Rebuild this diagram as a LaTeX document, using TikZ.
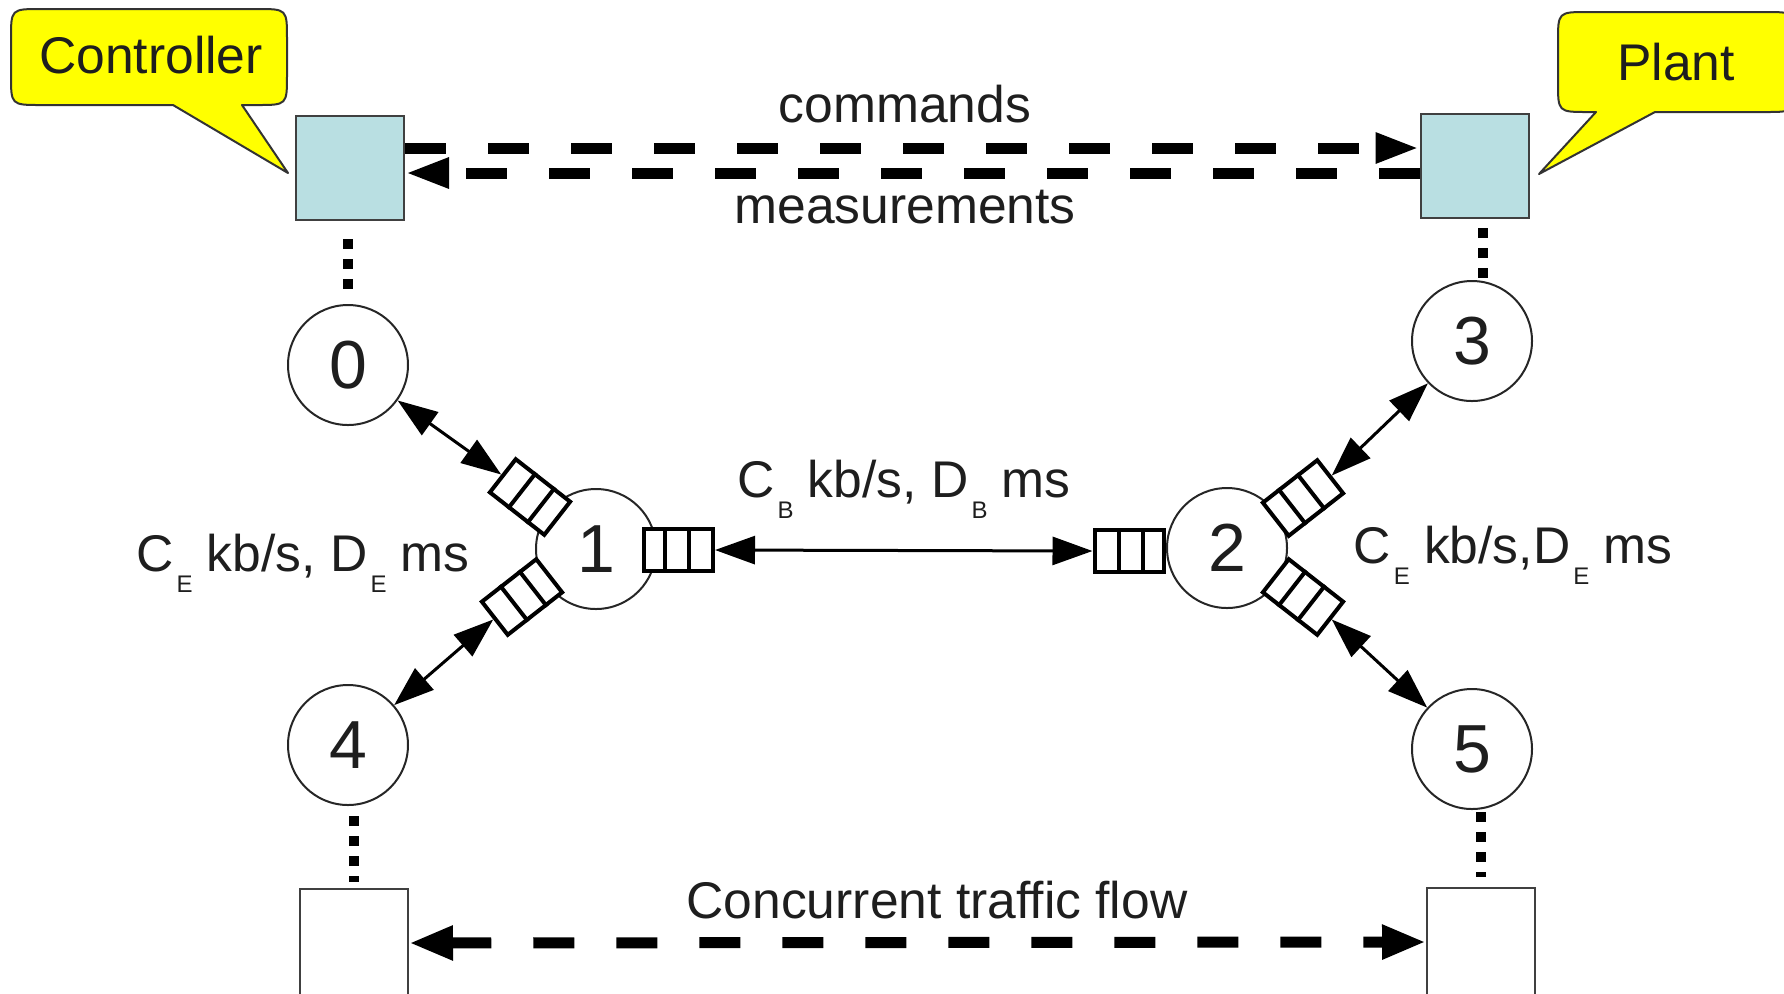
\documentclass[tikz,border=0pt]{standalone}
\usepackage{fontspec}
\setmainfont{Liberation Sans}
\usetikzlibrary{arrows.meta,calc}
\newcommand{\sbs}[1]{\kern1.5pt\raisebox{-10.5pt}{\fontsize{12}{12}\selectfont #1}}
\definecolor{boxblue}{RGB}{185,223,226}
\definecolor{txt}{RGB}{30,30,30}
\definecolor{callyellow}{RGB}{255,255,0}
\begin{document}
\begin{tikzpicture}[x=0.5pt,y=-0.5pt,
  lbl/.style={font=\fontsize{25.8}{30}\selectfont, text=txt, inner sep=0pt, anchor=base},
  station/.style={draw=black!85, line width=1pt, circle, minimum size=60pt, inner sep=0pt, fill=white, font=\fontsize{34}{40}\selectfont, text=txt},
  host/.style={draw=black!75, line width=1pt, minimum width=54pt, minimum height=52pt, inner sep=0pt},
  queue/.style={draw, line width=2pt, fill=white, minimum width=34.5pt, minimum height=21pt, inner sep=0pt},
  divider/.style={line width=2pt},
  link/.style={line width=1.5pt, {Triangle[length=20pt,width=14pt]}-{Triangle[length=20pt,width=14pt]}},
  msg/.style={line width=5.5pt, dash pattern=on 20.5pt off 21pt, -{Triangle[length=22pt,width=14pt]}},
  flowline/.style={line width=5.5pt, dash pattern=on 20.5pt off 21pt, {Triangle[length=22pt,width=16pt]}-{Triangle[length=22pt,width=16pt]}},
  tie/.style={line width=5pt, dash pattern=on 5pt off 5pt},
  balloon/.style={fill=callyellow, draw=black!80, line width=1pt, line join=round},
]
\useasboundingbox (0,0) rectangle (1784,993);
\clip (0,0) rectangle (1784,993);

% callout balloons
\draw[balloon] (11,39) .. controls (11,9) .. (41,9) -- (257,9) .. controls (287,9) .. (287,39)
  -- (287,75) .. controls (287,105) .. (257,105) -- (242,105) -- (288,173) -- (173,105)
  -- (41,105) .. controls (11,105) .. (11,75) -- cycle;
\draw[balloon] (1558,42) .. controls (1558,12) .. (1588,12) -- (1765,12) .. controls (1795,12) .. (1795,42)
  -- (1795,82) .. controls (1795,112) .. (1765,112) -- (1655,112) -- (1539,174) -- (1596,112)
  -- (1588,112) .. controls (1558,112) .. (1558,82) -- cycle;
\node[lbl] (ctrltxt) at (151,73) {Controller};
\node[lbl] (planttxt) at (1676,80) {Plant};

% hosts
\node[host, fill=boxblue] (ctrl) at (350,168) {};
\node[host, fill=boxblue] (plant) at (1474.5,166) {};
\node[host, minimum height=54pt] (lb) at (354,943) {};
\node[host, minimum height=54pt] (rb) at (1481,942) {};

% stations
\node[station] (n0) at (348,365) {0};
\node[station] (n1) at (596,549) {1};
\node[station] (n2) at (1227,548) {2};
\node[station] (n3) at (1472,341) {3};
\node[station] (n4) at (348,745) {4};
\node[station] (n5) at (1472,749) {5};

% queues
\node[queue, rotate=-38] (q1a) at (530,497) {};
\node[queue, rotate=38] (q1b) at (522,597) {};
\node[queue] (q1r) at (678.5,550) {};
\node[queue] (q2l) at (1129,551) {};
\node[queue, rotate=38] (q2a) at (1303,498) {};
\node[queue, rotate=-38] (q2b) at (1303,597) {};
% dividers, counted from the station side
\foreach \q in {q1a,q1b,q2l}{
  \foreach \f in {0.31,0.64}{
    \draw[divider] ($(\q.north east)!\f!(\q.north west)$) -- ($(\q.south east)!\f!(\q.south west)$);
  }
}
\foreach \q in {q1r,q2a,q2b}{
  \foreach \f in {0.31,0.64}{
    \draw[divider] ($(\q.north west)!\f!(\q.north east)$) -- ($(\q.south west)!\f!(\q.south east)$);
  }
}

% links
\draw[link] (n0) -- (q1a.west);
\draw[link] (n4) -- (q1b.west);
\draw[link] (q1r.east) -- (q2l.west);
\draw[link] (n3) -- (q2a.east);
\draw[link] (n5) -- (q2b.east);

% dotted ties
\draw[tie, shorten <=9pt, shorten >=3.5pt] (n0.north |- ctrl.south) -- (n0.north);
\draw[tie, shorten <=4.5pt, shorten >=1pt] ([xshift=4pt]plant.south) -- ([xshift=4pt]plant.south |- n3.north);
\draw[tie, shorten <=5pt, shorten >=3pt] (lb.north |- n4.south) -- (lb.north);
\draw[tie, shorten <=1pt, shorten >=5pt] (rb.north |- n5.south) -- (rb.north);

% messages
\draw[msg] ([yshift=10pt]ctrl.east) -- ([yshift=9pt]plant.west);
\draw[msg] ([yshift=-3.5pt]plant.west) -- ([yshift=-2.5pt]ctrl.east);
\draw[flowline] (lb.east) -- (rb.west);

% labels
\node[lbl] (cmd) at (905,122) {commands};
\node[lbl] (meas) at (905,223) {measurements};
\node[lbl] (cb) at (904,497) {C\sbs{B} kb/s, D\sbs{B} ms};
\node[lbl] (cel) at (303,571) {C\sbs{E} kb/s, D\sbs{E} ms};
\node[lbl] (cer) at (1513,563) {C\sbs{E} kb/s,D\sbs{E} ms};
\node[lbl] (flow) at (937,918) {Concurrent traffic flow};
\end{tikzpicture}
\end{document}
